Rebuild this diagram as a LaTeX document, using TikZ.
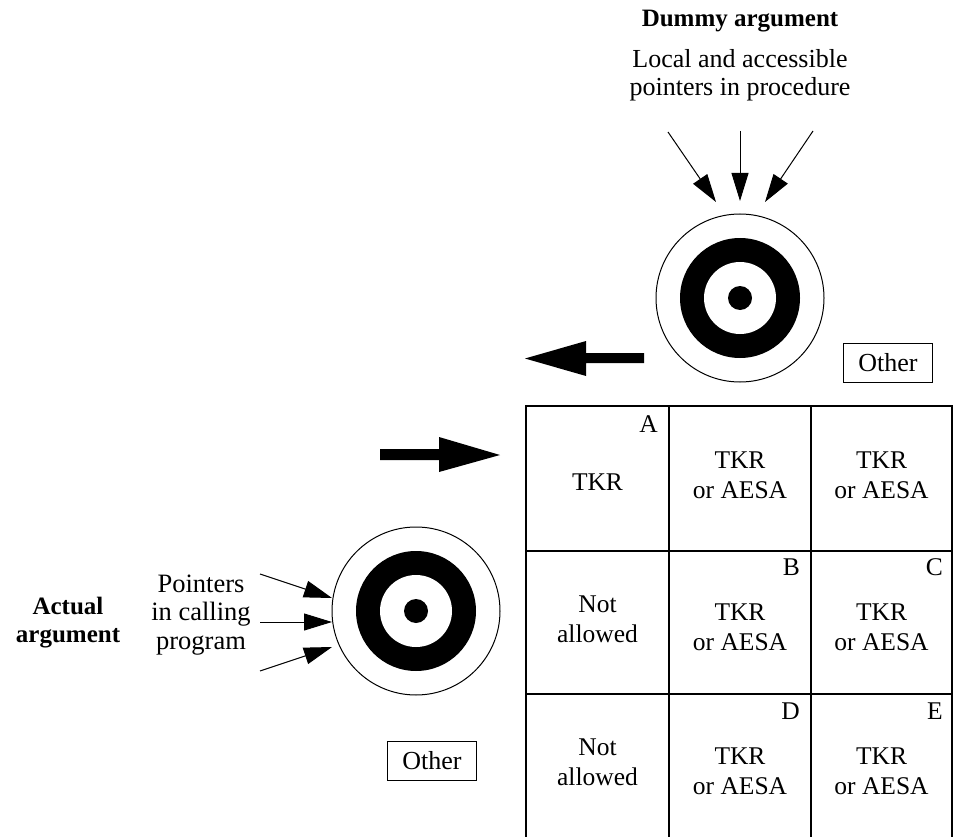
\documentclass[tikz,border=0pt]{standalone}
\usepackage{fontspec}
\setmainfont{Liberation Serif}
\usetikzlibrary{arrows.meta}

\begin{document}
\begin{tikzpicture}[x=1pt, y=-1pt,
  txt/.style={font=\fontsize{25.5}{30}\selectfont, align=center, inner sep=0pt},
  toptxt/.style={font=\fontsize{26}{27.5}\selectfont, align=center, inner sep=0pt},
  sidetxt/.style={font=\fontsize{26.5}{28.5}\selectfont, align=center, inner sep=0pt},
  heading/.style={font=\fontsize{25}{28}\selectfont\bfseries, align=center, inner sep=0pt},
  gridline/.style={line width=1.1pt},
  otherbox/.style={draw, line width=1pt, minimum width=89pt, minimum height=39pt,
                   inner sep=0pt, font=\fontsize{26}{30}\selectfont},
  ring/.style={circle, draw, line width=1pt, minimum size=168pt, inner sep=0pt},
  band/.style={circle, fill=black, minimum size=120pt, inner sep=0pt},
  hole/.style={circle, fill=white, minimum size=72pt, inner sep=0pt},
  bull/.style={circle, fill=black, minimum size=24pt, inner sep=0pt},
  thin/.style={line width=1pt, -{Triangle[length=28pt, width=17pt]}},
  fat/.style={fill=black}
]
\useasboundingbox (0,0) rectangle (953,837);

% ---- dummy argument target ----
\node[heading, anchor=base] (dummyhead) at (740,27) {Dummy argument};
\node[toptxt] (dummytxt) at (740,75) {Local and accessible\\pointers in procedure};

\node[ring] (dtarget) at (740,298) {};
\node[band] at (dtarget) {};
\node[hole] at (dtarget) {};
\node[bull] at (dtarget) {};

\coordinate (ds1) at (668,132);
\coordinate (ds2) at (740,131);
\coordinate (ds3) at (813,131);
\coordinate (de1) at (716,202);
\coordinate (de2) at (740,201);
\coordinate (de3) at (765,202);
\draw[thin] (ds1) -- (de1);
\draw[thin] (ds2) -- (de2);
\draw[thin] (ds3) -- (de3);

\node[otherbox] (dother) at (888,363) {Other};

% fat arrow pointing left
\fill[fat] (644,353) -- (586,353) -- (586,341) -- (525,358.5) -- (586,376)
  -- (586,363) -- (644,363) -- cycle;

% ---- actual argument target ----
\node[heading, align=center] (acthead) at (68,623) {Actual\\argument};
\node[sidetxt] (acttxt) at (201,615) {Pointers\\in calling\\program};

\node[ring] (atarget) at (416,611) {};
\node[band] at (atarget) {};
\node[hole] at (atarget) {};
\node[bull] at (atarget) {};

\coordinate (as1) at (260,574);
\coordinate (as2) at (260,622);
\coordinate (as3) at (260,671);
\coordinate (ae1) at (332,598);
\coordinate (ae2) at (332,622);
\coordinate (ae3) at (332,647);
\draw[thin] (as1) -- (ae1);
\draw[thin] (as2) -- (ae2);
\draw[thin] (as3) -- (ae3);

\node[otherbox] (aother) at (432,761) {Other};

% fat arrow pointing right
\fill[fat] (380,449) -- (439,449) -- (439,437) -- (500,455) -- (439,472)
  -- (439,460) -- (380,460) -- cycle;

% ---- grid of outcomes ----
\draw[gridline] (526,837) -- (526,406) -- (952,406) -- (952,837);
\draw[gridline] (669,406) -- (669,837);
\draw[gridline] (811,406) -- (811,837);
\draw[gridline] (526,551) -- (952,551);
\draw[gridline] (526,694) -- (952,694);

\node[txt, anchor=base east] (la) at (658,432) {A};
\node[txt, anchor=base east] (lb) at (800,575) {B};
\node[txt, anchor=base east] (lc) at (943,575) {C};
\node[txt, anchor=base east] (ld) at (800,719) {D};
\node[txt, anchor=base east] (le) at (943,719) {E};

\node[txt, anchor=base] (c11) at (597.5,490) {TKR};
\node[txt] (c12) at (740,475) {TKR\\or AESA};
\node[txt] (c13) at (881.5,475) {TKR\\or AESA};
\node[txt] (c21) at (597.5,619) {Not\\allowed};
\node[txt] (c22) at (740,627) {TKR\\or AESA};
\node[txt] (c23) at (881.5,627) {TKR\\or AESA};
\node[txt] (c31) at (597.5,762) {Not\\allowed};
\node[txt] (c32) at (740,771) {TKR\\or AESA};
\node[txt] (c33) at (881.5,771) {TKR\\or AESA};
\end{tikzpicture}
\end{document}
